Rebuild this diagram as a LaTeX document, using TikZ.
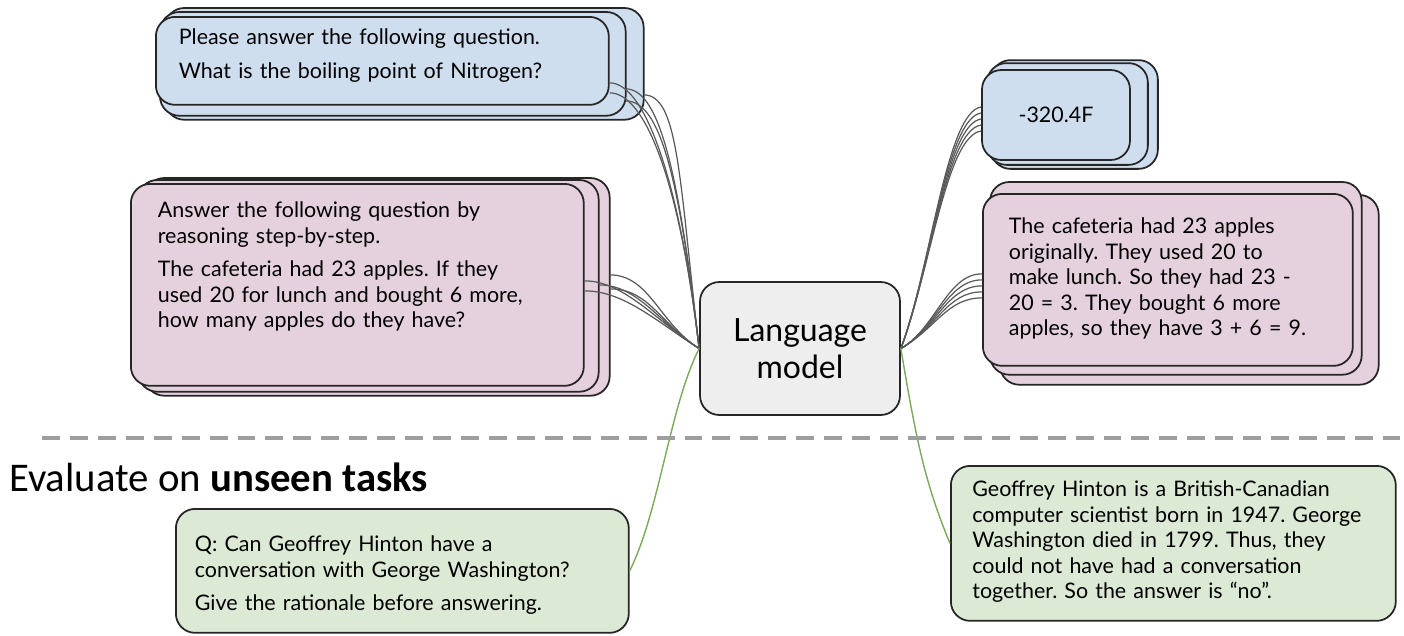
\documentclass[tikz,border=0pt]{standalone}
\usepackage{fontspec}
\setmainfont{Lato}
\newfontfamily\headfont{Carlito}
\usepackage{tikz}
\usetikzlibrary{positioning, calc}
\usetikzlibrary{backgrounds}
\frenchspacing

\definecolor{qblue}{HTML}{CFDEEE}
\definecolor{qpink}{HTML}{E5D1DD}
\definecolor{qgreen}{HTML}{DCE9D5}
\definecolor{lmgray}{HTML}{EEEEEE}
\definecolor{wgreen}{HTML}{7AAA5C}

\tikzset{
  card/.style={draw=black!85, line width=1pt, rounded corners=11pt, inner ysep=0pt, align=left,
    font=\fontsize{12.2}{14.5}\selectfont},
  stackcard/.style={draw=black!85, line width=1pt, rounded corners=11pt},
  wire/.style={draw=black!65, line width=0.7pt},
  greenwire/.style={draw=wgreen, line width=0.8pt},
  dashline/.style={draw=black!38, line width=2.3pt, dash pattern=on 10.2pt off 5.7pt}
}

\begin{document}
\begin{tikzpicture}[x=0.02cm, y=-0.02cm]
\useasboundingbox (0,0) rectangle (1404,636);

% model
\node[draw=black!85, line width=1pt, rounded corners=11pt, fill=lmgray, minimum width=4cm, minimum height=2.66cm,
  align=center, font=\fontsize{18.2}{21}\selectfont] (lm) at (800,348.5) {Language\\model};

% training prompts (left) and targets (right)
\node[card, fill=qblue, anchor=north west, text width=8.14cm, inner xsep=0.46cm, text height=0.56cm, text depth=1.2cm]
  (q1) at (155,16) {Please answer the following question.\\[4.5pt]What is the boiling point of Nitrogen?};
\node[card, fill=qpink, anchor=north west, text width=7.98cm, inner xsep=0.54cm, text height=0.68cm, text depth=3.36cm]
  (q2) at (130,183) {Answer the following question by\\reasoning step-by-step.\\[4.5pt]The cafeteria had 23 apples. If they\\used 20 for lunch and bought 6 more,\\how many apples do they have?};
\node[card, fill=qblue, minimum width=2.96cm, minimum height=1.8cm, inner sep=0pt] (a1) at (1056,115) {-320.4F};
\node[card, fill=qpink, anchor=north west, text width=6.36cm, inner xsep=0.52cm, text height=0.8cm, text depth=2.64cm]
  (a2) at (982,193) {The cafeteria had 23 apples\\originally. They used 20 to\\make lunch. So they had 23 -\\20 = 3. They bought 6 more\\apples, so they have 3 + 6 = 9.};

% unseen task
\node[card, fill=qgreen, anchor=north west, text width=8.3cm, inner xsep=0.38cm, text height=0.86cm, text depth=1.62cm]
  (q3) at (175,508) {Q: Can Geoffrey Hinton have a\\conversation with George Washington?\\[4.5pt]Give the rationale before answering.};
\node[card, fill=qgreen, anchor=north west, text width=8.04cm, inner xsep=0.43cm, text height=0.62cm, text depth=2.48cm]
  (a3) at (950,465) {Geoffrey Hinton is a British-Canadian\\computer scientist born in 1947. George\\Washington died in 1799. Thus, they\\could not have had a conversation\\together. So the answer is ``no''.};

\begin{scope}[on background layer]
  \draw[stackcard, fill=qblue] ($(q1.north west)+(10,-8)$) rectangle ($(q1.south east)+(34,14)$);
  \draw[stackcard, fill=qblue] ($(q1.north west)+(5,-4)$) rectangle ($(q1.south east)+(16,10)$);
  \draw[stackcard, fill=qpink] ($(q2.north west)+(15,-5)$) rectangle ($(q2.south east)+(25,9)$);
  \draw[stackcard, fill=qpink] ($(q2.north west)+(8,-3)$) rectangle ($(q2.south east)+(14,5)$);
  \draw[stackcard, fill=qblue] ($(a1.north west)+(10,-9)$) rectangle ($(a1.south east)+(27,8)$);
  \draw[stackcard, fill=qblue] ($(a1.north west)+(6,-6)$) rectangle ($(a1.south east)+(17,4)$);
  \draw[stackcard, fill=qpink] ($(a2.north west)+(18,2)$) rectangle ($(a2.south east)+(25,18)$);
  \draw[stackcard, fill=qpink] ($(a2.north west)+(8,-11)$) rectangle ($(a2.south east)+(8,8)$);
\end{scope}

% bundles
\foreach \dx/\dy in {0/22, 0/32, 16/28, 16/40, 34/34}
  \draw[wire] ([shift={(\dx,\dy)}]q1.east) .. controls +(35,0) and +(-20,-170) .. (lm.west);
\foreach \dx/\dy in {0/-4, 0/6, 14/0, 25/-10, 25/4}
  \draw[wire] ([shift={(\dx,\dy)}]q2.east) .. controls +(40,0) and +(-40,-25) .. (lm.west);
\foreach \dy in {-8, -2, 4, 10, 16}
  \draw[wire] (lm.east) .. controls +(30,-80) and +(-35,5) .. ([yshift=-\dy*0.02cm]a1.west);
\foreach \dy in {-6, 0, 6, 12, 18}
  \draw[wire] (lm.east) .. controls +(35,-20) and +(-35,0) .. ([yshift=-\dy*0.02cm]a2.west);

\draw[greenwire] (lm.west) .. controls +(-30,60) and +(30,-60) .. (q3.east);
\draw[greenwire] (lm.east) .. controls +(15,90) and +(-25,-60) .. (a3.west);

\draw[dashline] (42,438) -- (1400,438);
\node[anchor=base west, font=\headfont\fontsize{23.2}{27}\selectfont] (eval) at (3,491) {Evaluate on \textbf{unseen tasks}};
\end{tikzpicture}
\end{document}
